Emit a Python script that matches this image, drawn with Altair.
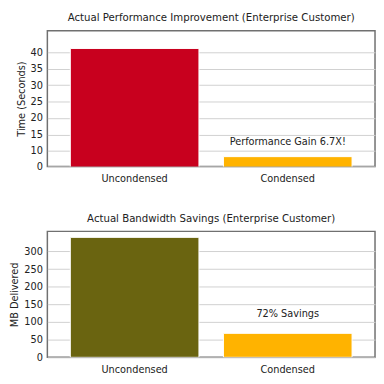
import altair as alt
import pandas as pd

categories = ["Uncondensed", "Condensed"]
time_seconds = [41.1, 8.3]
mb_delivered = [340, 68]
time_ticks = [5.33, 10, 15, 20, 25, 30, 35, 40]
mb_ticks = [0, 50, 100, 150, 200, 250, 300]
time_colors = ["#C8001E", "#FFB300"]
mb_colors = ["#6A6410", "#FFB300"]
annotations = ["Performance Gain 6.7X!", "72% Savings"]
annotation_y = [12.7, 124]
titles = ["Actual Performance Improvement (Enterprise Customer)",
          "Actual Bandwidth Savings (Enterprise Customer)"]
y_titles = ["Time (Seconds)", "MB Delivered"]

FONT = "Liberation Sans Narrow, DejaVu Sans Condensed, Liberation Sans"


def panel(values, colors, title, ytitle, domain, ticks, label_expr, ann, ann_y, h):
    df = pd.DataFrame({"cat": categories, "val": values, "color": colors})
    xenc = alt.X(
        "cat:N", sort=categories, title=None,
        scale=alt.Scale(paddingInner=0.16, paddingOuter=0.15),
        axis=alt.Axis(labelAngle=0, ticks=False, tickSize=0, domain=False,
                      labelPadding=6, labelFontSize=11, labelColor="#222"),
    )
    yscale = alt.Scale(domain=domain, nice=False, zero=False)
    yaxis = alt.Axis(values=ticks, tickCount=50, labelExpr=label_expr, grid=True,
                     gridColor="#d0d0d0", ticks=False, tickSize=0, domain=False,
                     labelPadding=5, labelOverlap=False, labelFontSize=11,
                     labelColor="#222", titleFontSize=11, titleFontWeight="normal",
                     titleColor="#222", titlePadding=4)
    bars = alt.Chart(df).mark_bar(clip=True, stroke="#ffffff", strokeWidth=1).encode(
        x=xenc,
        y=alt.Y("val:Q", title=ytitle, scale=yscale, axis=yaxis),
        color=alt.Color("color:N", scale=None),
    )
    tdf = pd.DataFrame({"cat": ["Condensed"], "y": [ann_y], "t": [ann]})
    text = alt.Chart(tdf).mark_text(fontSize=11, color="#222", font=FONT).encode(
        x=alt.X("cat:N", sort=categories),
        y=alt.Y("y:Q", scale=yscale),
        text="t:N",
    )
    return alt.layer(bars, text).properties(
        width=333, height=h,
        title=alt.TitleParams(title, fontSize=11.5, fontWeight="normal", color="#222",
                              anchor="middle", font=FONT, offset=7),
    )


top = panel(time_seconds, time_colors, titles[0], y_titles[0], [5.33, 46.5], time_ticks,
            "datum.value < 6 ? '0' : datum.label", annotations[0], annotation_y[0], 138)
bottom = panel(mb_delivered, mb_colors, titles[1], y_titles[1], [0, 357], mb_ticks,
               "datum.label", annotations[1], annotation_y[1], 128)

chart = alt.vconcat(top, bottom, spacing=28).properties(padding=0).configure_view(
    stroke="#707070", strokeWidth=1.5
).configure_axis(labelFont=FONT, titleFont=FONT).configure_title(font=FONT)

chart.save("out.html", embed_options={"renderer": "svg", "actions": False})
